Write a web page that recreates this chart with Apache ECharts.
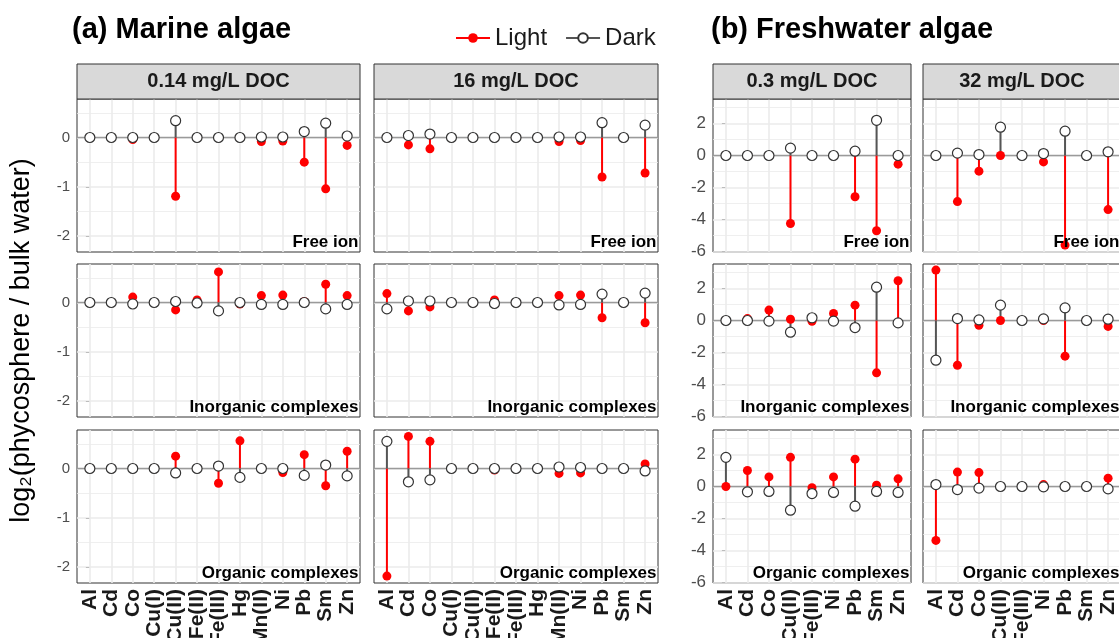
<!DOCTYPE html>
<html>
<head>
<meta charset="utf-8">
<script src="https://cdn.jsdelivr.net/npm/echarts@6/dist/echarts.min.js"></script>
<style>
  html, body { margin: 0; padding: 0; background: #fff; overflow: hidden; }
  #chart { width: 1119px; height: 638px; }
</style>
</head>
<body>
<div id="chart"></div>
<script>
// categories
const marineCats = ["Al", "Cd", "Co", "Cu(I)", "Cu(II)", "Fe(II)", "Fe(III)", "Hg", "Mn(II)", "Ni", "Pb", "Sm", "Zn"]
const freshCats = ["Al", "Cd", "Co", "Cu(II)", "Fe(III)", "Ni", "Pb", "Sm", "Zn"]
const marineDoc = ["0.14 mg/L DOC", "16 mg/L DOC"]
const freshDoc = ["0.3 mg/L DOC", "32 mg/L DOC"]
const speciesLabels = ["Free ion", "Inorganic complexes", "Organic complexes"]
const marineYTicks = [-2, -1, 0]
const marineYMinor = [-1.5, -0.5, 0.5]
const freshYTicks = [-6, -4, -2, 0, 2]
const freshYMinor = [-5, -3, -1, 1, 3]

// marine, 0.14 mg/L DOC
const marineLowFreeLight = [0, 0, -0.04, 0, -1.19, 0, 0, 0, -0.08, -0.07, -0.5, -1.04, -0.16]
const marineLowFreeDark = [0, 0, 0, 0, 0.34, 0, 0, 0, 0.01, 0.01, 0.12, 0.29, 0.03]
const marineLowInorgLight = [0, 0, 0.11, 0, -0.15, 0.05, 0.62, -0.03, 0.14, 0.15, 0.02, 0.37, 0.14]
const marineLowInorgDark = [0, 0, -0.03, 0, 0.02, -0.01, -0.17, 0, -0.04, -0.04, 0, -0.13, -0.04]
const marineLowOrgLight = [0, 0, 0, 0, 0.25, 0, -0.3, 0.56, 0, -0.08, 0.28, -0.35, 0.35]
const marineLowOrgDark = [0, 0, 0, 0, -0.09, 0, 0.05, -0.18, 0, 0, -0.14, 0.07, -0.15]

// marine, 16 mg/L DOC
const marineHighFreeLight = [0, -0.15, -0.23, 0, 0, 0, 0, 0, -0.08, -0.06, -0.8, 0, -0.72]
const marineHighFreeDark = [0, 0.04, 0.07, 0, 0, 0, 0, 0, 0.01, 0.01, 0.3, 0, 0.25]
const marineHighInorgLight = [0.18, -0.17, -0.09, 0, 0, 0.05, 0, 0, 0.14, 0.15, -0.31, 0, -0.41]
const marineHighInorgDark = [-0.13, 0.03, 0.03, 0, 0, -0.02, 0, 0, -0.05, -0.04, 0.17, 0, 0.19]
const marineHighOrgLight = [-2.18, 0.65, 0.55, 0, 0, -0.03, 0, 0, -0.1, -0.09, 0, 0, 0.09]
const marineHighOrgDark = [0.55, -0.27, -0.23, 0, 0, 0, 0, 0, 0.03, 0.02, 0, 0, -0.05]

// freshwater, 0.3 mg/L DOC
const freshLowFreeLight = [0, 0, 0, -4.25, 0, 0, -2.58, -4.7, -0.54]
const freshLowFreeDark = [0, 0, 0, 0.46, 0, 0, 0.27, 2.2, 0]
const freshLowInorgLight = [0, 0.12, 0.65, 0.08, -0.05, 0.44, 0.96, -3.27, 2.48]
const freshLowInorgDark = [0, 0, -0.04, -0.73, 0.17, -0.04, -0.44, 2.08, -0.15]
const freshLowOrgLight = [0, 1.0, 0.6, 1.82, -0.08, 0.6, 1.71, 0.08, 0.48]
const freshLowOrgDark = [1.82, -0.33, -0.31, -1.48, -0.44, -0.37, -1.23, -0.31, -0.37]

// freshwater, 32 mg/L DOC
const freshHighFreeLight = [0, -2.88, -0.98, 0, 0, -0.4, -5.6, 0, -3.38]
const freshHighFreeDark = [0, 0.15, 0.06, 1.77, 0, 0.12, 1.52, 0, 0.23]
const freshHighInorgLight = [3.15, -2.8, -0.3, 0, 0, 0, -2.23, 0, -0.37]
const freshHighInorgDark = [-2.48, 0.12, 0.04, 0.96, 0, 0.1, 0.79, 0, 0.08]
const freshHighOrgLight = [-3.37, 0.9, 0.87, 0, 0, 0.12, 0, 0, 0.52]
const freshHighOrgDark = [0.12, -0.19, -0.1, 0, 0, -0.02, 0, 0, -0.15]

// layout of the facet grid
const FONT = "Liberation Sans, Arial, sans-serif"
const colLeft = [77, 374, 713, 923]
const colWidth = [283, 284, 198, 198]
const rowTop = [99, 264, 430]
const rowHeight = 153
const stripTop = 64
const stripHeight = 35
const RED = "#ff0000"
const DARK = "#555555"

const panels = [
  { col: 0, row: 0, cats: marineCats, light: marineLowFreeLight, dark: marineLowFreeDark },
  { col: 0, row: 1, cats: marineCats, light: marineLowInorgLight, dark: marineLowInorgDark },
  { col: 0, row: 2, cats: marineCats, light: marineLowOrgLight, dark: marineLowOrgDark },
  { col: 1, row: 0, cats: marineCats, light: marineHighFreeLight, dark: marineHighFreeDark },
  { col: 1, row: 1, cats: marineCats, light: marineHighInorgLight, dark: marineHighInorgDark },
  { col: 1, row: 2, cats: marineCats, light: marineHighOrgLight, dark: marineHighOrgDark },
  { col: 2, row: 0, cats: freshCats, light: freshLowFreeLight, dark: freshLowFreeDark },
  { col: 2, row: 1, cats: freshCats, light: freshLowInorgLight, dark: freshLowInorgDark },
  { col: 2, row: 2, cats: freshCats, light: freshLowOrgLight, dark: freshLowOrgDark },
  { col: 3, row: 0, cats: freshCats, light: freshHighFreeLight, dark: freshHighFreeDark },
  { col: 3, row: 1, cats: freshCats, light: freshHighInorgLight, dark: freshHighInorgDark },
  { col: 3, row: 2, cats: freshCats, light: freshHighOrgLight, dark: freshHighOrgDark }
]

const grid = []
const xAxis = []
const yAxis = []
const series = []
const graphic = []

panels.forEach((p, k) => {
  const marine = p.col < 2
  const idx = p.cats.map((_, i) => i)
  const ticks = marine ? marineYTicks : freshYTicks
  const minor = marine ? marineYMinor : freshYMinor
  const showY = p.col === 0 || p.col === 2
  const bottomRow = p.row === 2

  grid.push({
    left: colLeft[p.col], top: rowTop[p.row],
    width: colWidth[p.col], height: rowHeight,
    outerBoundsMode: "none", containLabel: false,
    show: true, backgroundColor: "#fff",
    borderColor: "#333", borderWidth: 1
  })

  xAxis.push({
    gridIndex: k, type: "value",
    min: -0.6, max: p.cats.length - 0.4,
    axisLine: { show: false },
    splitLine: { show: false },
    axisTick: { show: bottomRow, customValues: idx, length: 4, lineStyle: { color: "#333" }},
    axisLabel: {
      show: bottomRow, customValues: idx, rotate: 90, margin: 6,
      formatter: v => p.cats[Math.round(v)],
      fontFamily: FONT, fontSize: 21, fontWeight: "bold", color: "#1a1a1a"
    }
  })

  const y = {
    gridIndex: k, type: "value",
    min: marine ? -2.32 : -6.03,
    max: marine ? 0.78 : 3.53,
    axisLine: { show: false },
    splitLine: { show: false },
    axisTick: { show: showY, customValues: ticks, length: 4, lineStyle: { color: "#333" }},
    axisLabel: {
      show: showY, customValues: ticks, margin: 7,
      fontFamily: FONT, fontSize: marine ? 15 : 17, color: "#4d4d4d"
    }
  }
  if (p.col === 0 && p.row === 1) {
    y.name = "log\u2082(phycosphere / bulk water)"
    y.nameLocation = "middle"
    y.nameGap = 42
    y.nameTextStyle = { fontFamily: FONT, fontSize: 27, color: "#000" }
  }
  yAxis.push(y)

  // panel grid lines + zero reference line
  const lines = []
  idx.forEach(i => lines.push({ xAxis: i, lineStyle: { color: "#ebebeb", width: 1.6, type: "solid" }}))
  minor.forEach(v => lines.push({ yAxis: v, lineStyle: { color: "#ebebeb", width: 0.8, type: "solid" }}))
  ticks.forEach(v => lines.push({ yAxis: v, lineStyle: { color: "#ebebeb", width: 1.6, type: "solid" }}))
  lines.push({ yAxis: 0, lineStyle: { color: "#9a9a9a", width: 1.4, type: "solid" }})

  series.push({
    type: "bar", name: "LightSeg", xAxisIndex: k, yAxisIndex: k,
    data: p.light.map((v, i) => [i, v]),
    barWidth: 2, barGap: "-100%", z: 2,
    itemStyle: { color: RED },
    markLine: {
      silent: true, symbol: "none", z: 1, animation: false,
      label: { show: false },
      data: lines
    }
  })
  series.push({
    type: "bar", name: "DarkSeg", xAxisIndex: k, yAxisIndex: k,
    data: p.dark.map((v, i) => [i, v]),
    barWidth: 2, barGap: "-100%", z: 2,
    itemStyle: { color: DARK }
  })
  series.push({
    type: "line", name: "Light", xAxisIndex: k, yAxisIndex: k,
    data: p.light.map((v, i) => [i, v]),
    symbol: "circle", symbolSize: 9, showSymbol: true, z: 3,
    lineStyle: { width: 2, color: RED, opacity: 0 },
    itemStyle: { color: RED }
  })
  series.push({
    type: "line", name: "Dark", xAxisIndex: k, yAxisIndex: k,
    data: p.dark.map((v, i) => [i, v]),
    symbol: "circle", symbolSize: 10, showSymbol: true, z: 4,
    lineStyle: { width: 2, color: DARK, opacity: 0 },
    itemStyle: { color: "#fff", borderColor: "#333", borderWidth: 1.2 }
  })

  // species label in the bottom-right corner of each panel
  graphic.push({
    type: "text", silent: true, z: 10,
    style: {
      text: speciesLabels[p.row],
      x: colLeft[p.col] + colWidth[p.col] - 1.5,
      y: rowTop[p.row] + rowHeight - 1,
      align: "right", verticalAlign: "bottom",
      textAlign: "right", textVerticalAlign: "bottom",
      font: "bold 17px " + FONT, fill: "#000"
    }
  })
})

// facet strips
const stripLabels = [marineDoc[0], marineDoc[1], freshDoc[0], freshDoc[1]]
stripLabels.forEach((label, c) => {
  graphic.push({
    type: "rect", silent: true, z: 5,
    shape: { x: colLeft[c], y: stripTop, width: colWidth[c], height: stripHeight },
    style: { fill: "#d9d9d9", stroke: "#333", lineWidth: 1 }
  })
  graphic.push({
    type: "text", silent: true, z: 6,
    style: {
      text: label,
      x: colLeft[c] + colWidth[c] / 2,
      y: stripTop + stripHeight / 2,
      align: "center", verticalAlign: "middle",
      textAlign: "center", textVerticalAlign: "middle",
      font: "bold 20px " + FONT, fill: "#1a1a1a"
    }
  })
})

const chart = echarts.init(document.getElementById("chart"))
chart.setOption({
  backgroundColor: "#fff",
  animation: false,
  title: [
    { text: "(a) Marine algae", left: 67, top: 10, textStyle: { fontFamily: FONT, fontSize: 29, fontWeight: "bold", color: "#000" }},
    { text: "(b) Freshwater algae", left: 706, top: 10, textStyle: { fontFamily: FONT, fontSize: 29, fontWeight: "bold", color: "#000" }}
  ],
  legend: {
    left: 450, top: 21,
    selectedMode: false,
    itemWidth: 34, itemHeight: 12, itemGap: 18,
    textStyle: { fontFamily: FONT, fontSize: 24, color: "#1a1a1a" },
    data: [
      { name: "Light", lineStyle: { opacity: 1 }},
      { name: "Dark", lineStyle: { opacity: 1 }}
    ]
  },
  grid,
  xAxis,
  yAxis,
  series,
  graphic
})
</script>
</body>
</html>
